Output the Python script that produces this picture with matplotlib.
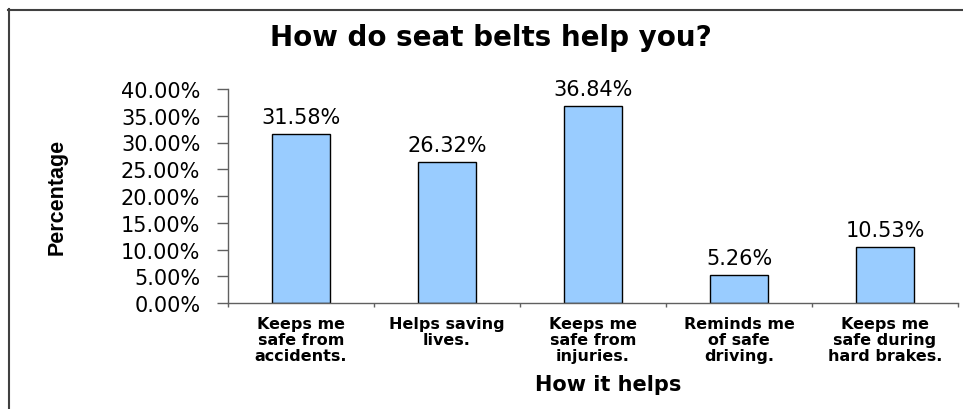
import matplotlib.pyplot as plt
import numpy as np
from matplotlib.lines import Line2D

# Survey answers: how seat belts help
categories = ['Keeps me\nsafe from\naccidents.', 'Helps saving\nlives.',
              'Keeps me\nsafe from\ninjuries.', 'Reminds me\nof safe\ndriving.',
              'Keeps me\nsafe during\nhard brakes.']
percentages = [31.58, 26.32, 36.84, 5.26, 10.53]
y_ticks = [0, 5, 10, 15, 20, 25, 30, 35, 40]

plt.rcParams['font.family'] = ['DejaVu Sans']

fig = plt.figure(figsize=(9.63, 4.10), dpi=100)
ax = fig.add_axes([0.2368, 0.2585, 0.758, 0.522])

x = np.arange(len(categories))
ax.bar(x, percentages, width=0.4, color='#99CCFF', edgecolor='black', linewidth=1.0)

# value labels above each bar
for xi, v in zip(x, percentages):
    ax.text(xi, v + 1.3, f'{v:.2f}%', ha='center', va='bottom', fontsize=15)

ax.set_xlim(-0.5, len(categories) - 0.5)
ax.set_ylim(0, 40)
ax.set_yticks(y_ticks)
ax.set_yticklabels([f'{t:.2f}%' for t in y_ticks], fontsize=15)

# tick marks at category boundaries, labels at centres
ax.set_xticks(np.arange(-0.5, len(categories)), labels=[''] * (len(categories) + 1))
ax.set_xticks(x, labels=categories, minor=True)
ax.tick_params(axis='x', which='minor', length=0, pad=9)
for lab in ax.get_xticklabels(minor=True):
    lab.set_fontsize(11.5)
    lab.set_fontweight('bold')
    lab.set_linespacing(1.1)
ax.tick_params(axis='x', which='major', length=3, width=1, color='#606060', direction='out')
ax.tick_params(axis='y', length=8, width=1, color='#606060', direction='out', pad=12)

for side in ['top', 'right']:
    ax.spines[side].set_visible(False)
for side in ['left', 'bottom']:
    ax.spines[side].set_color('#606060')
    ax.spines[side].set_linewidth(1)

# titles and axis labels
fig.text(0.51, 0.907, 'How do seat belts help you?', ha='center', va='center',
         fontsize=20, fontweight='bold')
fig.text(0.632, 0.061, 'How it helps', ha='center', va='center',
         fontsize=15, fontweight='bold')
fig.text(0.059, 0.52, 'Percentage', ha='center', va='center', rotation=90,
         fontsize=15.5, fontweight='bold', family=['Liberation Sans', 'DejaVu Sans'])

# chart-area frame (left and top edges)
fig.add_artist(Line2D([8.5 / 963, 8.5 / 963], [0, 1 - 10 / 410],
                      transform=fig.transFigure, color='#404040', linewidth=1.5))
fig.add_artist(Line2D([8 / 963, 1], [1 - 10.5 / 410, 1 - 10.5 / 410],
                      transform=fig.transFigure, color='#404040', linewidth=1.5))

fig.savefig('out.png', dpi=100)
plt.close(fig)
